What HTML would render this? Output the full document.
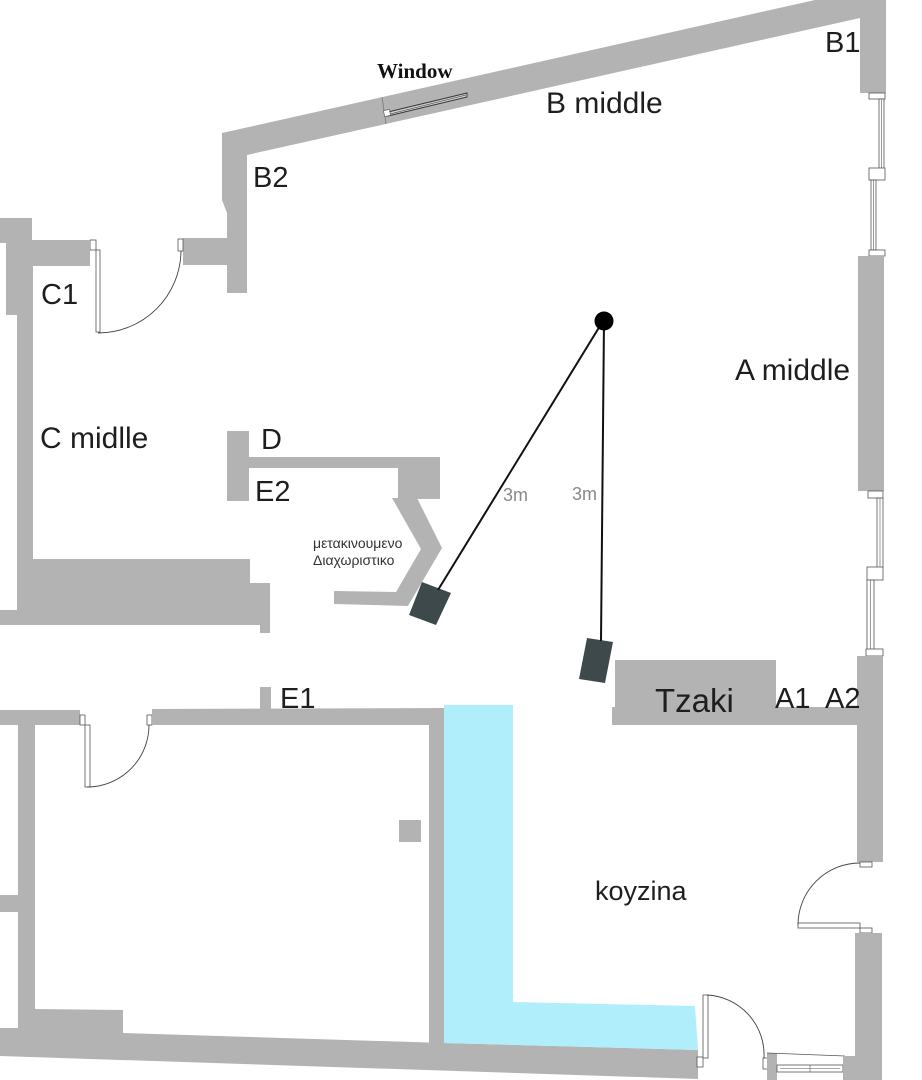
<!DOCTYPE html>
<html><head><meta charset="utf-8"><style>
html,body{margin:0;padding:0;background:#fff;}
svg{display:block;}
.w{fill:#b3b3b3;}
.f{fill:#fff;stroke:#555;stroke-width:0.8;}
.ln{fill:none;stroke:#444;stroke-width:0.9;}
.lab{font-family:"Liberation Sans",sans-serif;fill:#1e1e1e;}
</style></head><body>
<svg width="922" height="1080" viewBox="0 0 922 1080" xmlns="http://www.w3.org/2000/svg">
<rect width="922" height="1080" fill="#fff"/>

<!-- top diagonal wall + B2 vertical + arm + B1 -->
<polygon class="w" points="222,133 815,0 886,0 886,93 860,93 860,18 247,155 247,293 227,293 227,265 183,265 183,238 227,238 227,213 222,200"/>
<!-- window on diagonal -->
<line x1="382" y1="97" x2="386" y2="124" stroke="#777" stroke-width="0.8"/>
<polygon points="388,112 467,93 467,97 388,116" fill="#cfcfcf" stroke="#333" stroke-width="0.9"/>
<line x1="390" y1="114" x2="466" y2="95" stroke="#333" stroke-width="0.6"/>
<rect x="384" y="110" width="6" height="6" fill="#fff" stroke="#555" stroke-width="0.6" transform="rotate(-13 387 113)"/>

<!-- right wall windows top -->
<rect class="f" x="869" y="93" width="16" height="6"/>
<rect class="f" x="879" y="99" width="5" height="70"/>
<line x1="881.5" y1="99" x2="881.5" y2="169" stroke="#555" stroke-width="0.6"/>
<rect class="f" x="869" y="168" width="16" height="12"/>
<rect class="f" x="871" y="180" width="5" height="70"/>
<line x1="873.5" y1="180" x2="873.5" y2="250" stroke="#555" stroke-width="0.6"/>
<rect class="f" x="869" y="250" width="16" height="6"/>
<rect class="w" x="858" y="256" width="26" height="235"/>
<rect class="f" x="868" y="491" width="15" height="7"/>
<rect class="f" x="877" y="498" width="6" height="70"/>
<line x1="880" y1="498" x2="880" y2="568" stroke="#555" stroke-width="0.6"/>
<rect class="f" x="867" y="567" width="16" height="13"/>
<rect class="f" x="867" y="580" width="7" height="70"/>
<line x1="870.5" y1="580" x2="870.5" y2="650" stroke="#555" stroke-width="0.6"/>
<rect class="f" x="866" y="649" width="17" height="7"/>
<rect class="w" x="857" y="656" width="26" height="206"/>

<!-- C1 arm + door -->
<rect class="f" x="90" y="240" width="6" height="10"/>
<rect class="f" x="96" y="250" width="4" height="82"/>
<rect class="f" x="178" y="239" width="5" height="12"/>
<path class="ln" d="M 98 333 A 83 83 0 0 0 181 251"/>

<!-- left C wall -->
<polygon class="w" points="0,218 32,218 32,240 90,240 90,266 33,266 33,559 250,559 250,583 270,583 270,633 260,633 260,625 0,625 0,610 17,610 17,315 6,315 6,243 0,243"/>

<!-- D / E2 -->
<rect class="w" x="227" y="431" width="22" height="70"/>
<rect class="w" x="249" y="457" width="191" height="11"/>
<rect class="w" x="398" y="457" width="42" height="42"/>

<!-- chevron divider -->
<polygon class="w" points="392,498 417,498 442,548 408,606 334,604 334,591 396,592 421,549"/>

<!-- speakers -->
<polygon points="422,582 451,593 436,625 409,615" fill="#3e494b"/>
<polygon points="587,638 613,642 605,683 579,679" fill="#3e494b"/>
<line x1="603" y1="321" x2="438" y2="590" stroke="#111" stroke-width="2"/>
<line x1="604" y1="321" x2="601" y2="641" stroke="#111" stroke-width="2"/>
<circle cx="604" cy="321" r="9.5" fill="#000"/>

<!-- Tzaki -->
<rect class="w" x="615" y="660" width="161" height="65"/>
<rect class="w" x="612" y="707" width="246" height="18"/>

<!-- bottom-left room -->
<rect class="w" x="0" y="710" width="80" height="15"/>
<rect class="f" x="80" y="715" width="5" height="10"/>
<rect class="f" x="85" y="725" width="5" height="62"/>
<rect class="f" x="147" y="715" width="5" height="10"/>
<path class="ln" d="M 87 787 A 62 62 0 0 0 149 725"/>
<polygon class="w" points="152,709 445,708 445,1043 429,1043 429,725 152,725"/>
<rect class="w" x="260" y="687" width="11" height="22"/>
<rect class="w" x="18" y="725" width="17" height="305"/>
<rect class="w" x="0" y="895" width="18" height="17"/>
<rect class="w" x="399" y="820" width="22" height="22"/>
<polygon class="w" points="0,1028 35,1028 35,1009 123,1010 123,1033 444,1043 698,1050 698,1079 0,1056"/>

<!-- blue -->
<polygon points="444,705 513,705 513,1002 695,1006 698,1050 444,1043" fill="#b1eefb"/>

<!-- bottom door -->
<rect class="f" x="697" y="1057" width="6" height="10"/>
<rect class="f" x="703" y="995" width="5" height="63"/>
<rect class="f" x="763" y="1058" width="5" height="11"/>
<path class="ln" d="M 707 995 A 60 60 0 0 1 764 1058"/>
<rect class="w" x="767" y="1053" width="10" height="27"/>
<line x1="767" y1="1053" x2="845" y2="1056" stroke="#555" stroke-width="0.8"/>
<rect class="f" x="777" y="1065" width="66" height="7"/>
<line x1="780" y1="1068.5" x2="840" y2="1068.5" stroke="#555" stroke-width="0.6"/>
<line x1="810" y1="1065" x2="810" y2="1072" stroke="#555" stroke-width="0.6"/>

<!-- right wall lower + door -->
<rect class="f" x="860" y="862" width="12" height="5"/>
<rect class="f" x="798" y="923" width="62" height="5"/>
<rect class="f" x="860" y="928" width="12" height="5"/>
<path class="ln" d="M 798 925 A 62 62 0 0 1 860 863"/>
<rect class="w" x="855" y="933" width="27" height="147"/>
<rect class="w" x="843" y="1056" width="14" height="24"/>

<!-- labels -->
<text class="lab" x="825" y="52" font-size="29">B1</text>
<text class="lab" x="546" y="113" font-size="30">B middle</text>
<text class="lab" x="253" y="187" font-size="29">B2</text>
<text class="lab" x="41" y="304" font-size="29">C1</text>
<text class="lab" x="40" y="448" font-size="30">C midlle</text>
<text class="lab" x="735" y="380" font-size="30">A middle</text>
<text class="lab" x="261" y="449" font-size="29">D</text>
<text class="lab" x="255" y="501" font-size="29">E2</text>
<text class="lab" x="280" y="708" font-size="29">E1</text>
<text class="lab" x="775" y="708" font-size="29">A1</text>
<text class="lab" x="825" y="708" font-size="29">A2</text>
<text class="lab" x="655" y="712" font-size="33">Tzaki</text>
<text class="lab" x="595" y="900" font-size="27">koyzina</text>
<text x="503" y="501" font-size="18" fill="#888" font-family="Liberation Sans, sans-serif">3m</text>
<text x="572" y="500" font-size="18" fill="#888" font-family="Liberation Sans, sans-serif">3m</text>
<text x="377" y="78" font-size="21" font-weight="bold" fill="#111" font-family="Liberation Serif, serif">Window</text>
<text x="313" y="548" font-size="14" fill="#333" font-family="Liberation Sans, DejaVu Sans, sans-serif">μετακινουμενο</text>
<text x="313" y="565" font-size="14" fill="#333" font-family="Liberation Sans, DejaVu Sans, sans-serif">Διαχωριστικο</text>
</svg>
</body></html>
